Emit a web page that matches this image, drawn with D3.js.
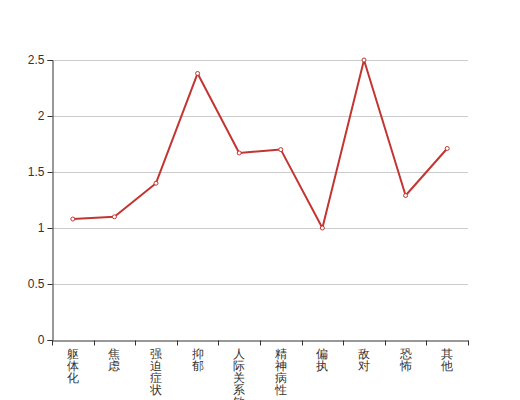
<!DOCTYPE html>
<html><head><meta charset="utf-8">
<script src="https://cdn.jsdelivr.net/npm/d3@7"></script>
<style>body{margin:0;background:#fff;} svg{display:block;font-family:"DejaVu Sans","Noto Sans CJK SC",sans-serif;}</style>
</head><body><svg id="c" width="520" height="400"></svg>
<script>
const categories = ["躯体化","焦虑","强迫症状","抑郁","人际关系敏感","精神病性","偏执","敌对","恐怖","其他"];
const values = [1.08,1.10,1.40,2.38,1.67,1.70,1.00,2.50,1.29,1.71];
const yTicks = [0,0.5,1,1.5,2,2.5];

const svg = d3.select("#c");
const m = {l:52, r:52, t:60, b:60};
const W = 520, H = 400;
const x = d3.scaleBand().domain(categories).range([m.l, W - m.r]);
const y = d3.scaleLinear().domain([0,2.5]).range([H - m.b, m.t]);

// grid
svg.append("g").selectAll("line").data(yTicks.filter(d=>d>0)).join("line")
  .attr("x1", m.l).attr("x2", W - m.r)
  .attr("y1", d=>Math.round(y(d))+0.5).attr("y2", d=>Math.round(y(d))+0.5)
  .attr("stroke","#ccc").attr("stroke-width",1);

// y axis
const ya = svg.append("g").attr("transform",`translate(${m.l+0.5},0)`)
  .call(d3.axisLeft(y).tickValues(yTicks).tickSize(5).tickPadding(3).tickFormat(d=>String(d)));
ya.select(".domain").attr("stroke","#333");
ya.selectAll(".tick line").attr("stroke","#333");
ya.selectAll("text").attr("fill","#333").attr("font-size",12);

// x axis
const xa = svg.append("g").attr("transform",`translate(0,${H - m.b + 0.5})`)
  .call(d3.axisBottom(x).tickSize(0).tickFormat(""));
xa.select(".domain").attr("stroke","#333");
const bounds = categories.map(c=>x(c)).concat([x(categories[categories.length-1])+x.bandwidth()]);
xa.selectAll("line.b").data(bounds).join("line").attr("class","b")
  .attr("x1",d=>Math.round(d)+0.5).attr("x2",d=>Math.round(d)+0.5)
  .attr("y1",0).attr("y2",5).attr("stroke","#333");
const lab = xa.selectAll("text.lab").data(categories).join("text").attr("class","lab")
  .attr("fill","#333").attr("font-size",12).attr("text-anchor","middle");
lab.each(function(d){
  const t = d3.select(this);
  Array.from(d).forEach((ch,i)=>{
    t.append("tspan").attr("x", x(d)+x.bandwidth()/2).attr("y", 17 + i*12).text(ch);
  });
});

// line
const line = d3.line().x(d=>x(d.c)+x.bandwidth()/2).y(d=>y(d.v));
const pts = categories.map((c,i)=>({c, v: values[i]}));
svg.append("path").datum(pts).attr("d",line).attr("fill","none")
  .attr("stroke","#c23531").attr("stroke-width",2).attr("stroke-linejoin","bevel");
svg.append("g").selectAll("circle").data(pts).join("circle")
  .attr("cx",d=>x(d.c)+x.bandwidth()/2).attr("cy",d=>y(d.v)).attr("r",2)
  .attr("fill","#fff").attr("stroke","#c23531").attr("stroke-width",1);
</script></body></html>
